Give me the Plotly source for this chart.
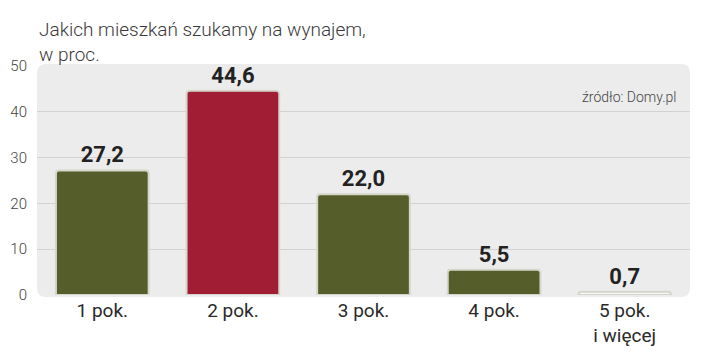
import plotly.graph_objects as go

categories = ["1 pok.", "2 pok.", "3 pok.", "4 pok.", "5 pok.<br>i więcej"]
values = [27.2, 44.6, 22.0, 5.5, 0.7]
bar_colors = ["#555e2a", "#a11d33", "#555e2a", "#555e2a", "#f6f6f6"]
y_ticks = [0, 10, 20, 30, 40, 50]

W, H = 720, 355
ml, mr, mt, mb = 37, 30, 66, 60
pw, ph = W - ml - mr, H - mt - mb

fig = go.Figure()
fig.add_trace(go.Bar(
    x=categories, y=values,
    marker=dict(color=bar_colors, line=dict(color="#d6d6cc", width=2), cornerradius=3),
    width=0.71,
    text=values, texttemplate="%{y:.1f}", textposition="outside",
    textfont=dict(family="Roboto, sans-serif", size=22, color="#222222", weight="bold"),
    cliponaxis=False,
))

# rounded background panel in paper coords
r = 9
rx, ry = r / pw, r / ph
x0, x1 = 0.0, 1.0
y0, y1 = -2 / ph, 1.0 + 2 / ph
path = (f"M {x0+rx},{y0} L {x1-rx},{y0} Q {x1},{y0} {x1},{y0+ry} "
        f"L {x1},{y1-ry} Q {x1},{y1} {x1-rx},{y1} L {x0+rx},{y1} "
        f"Q {x0},{y1} {x0},{y1-ry} L {x0},{y0+ry} Q {x0},{y0} {x0+rx},{y0} Z")
fig.add_shape(type="path", path=path, xref="paper", yref="paper",
              fillcolor="#ececec", line=dict(width=0), layer="below")

fig.update_layout(
    width=W, height=H,
    margin=dict(l=ml, r=mr, t=mt, b=mb, autoexpand=False),
    paper_bgcolor="white", plot_bgcolor="rgba(0,0,0,0)",
    separators=", ",
    showlegend=False,
    bargap=0.29,
    font=dict(family="Roboto, sans-serif", color="#333333"),
    xaxis=dict(range=[-0.5, 4.5], showgrid=False, zeroline=False, showline=False,
               automargin=False, ticks="", ticklabelstandoff=2,
               tickfont=dict(size=19, color="#2a2a2a")),
    yaxis=dict(range=[0, 50], tickvals=y_ticks, showgrid=True, gridcolor="#d2d2d2",
               gridwidth=1, zeroline=False, showline=False, ticks="", ticklabelstandoff=9,
               automargin=False, tickfont=dict(size=15, color="#444444", weight=300)),
    annotations=[
        dict(text="Jakich mieszkań szukamy na wynajem,<br>w proc.", xref="paper", yref="paper",
             x=0, y=1, xanchor="left", yanchor="bottom", yshift=-2, align="left", showarrow=False,
             font=dict(size=19, color="#3a3a3a", family="Roboto, sans-serif", weight=300)),
        dict(text="źródło: Domy.pl", xref="paper", yref="paper", x=1, y=1,
             xanchor="right", yanchor="middle", xshift=-12, yshift=-31, showarrow=False,
             font=dict(size=14, color="#444444", family="Roboto, sans-serif", weight=300)),
    ],
)
fig.write_html("out.html")
